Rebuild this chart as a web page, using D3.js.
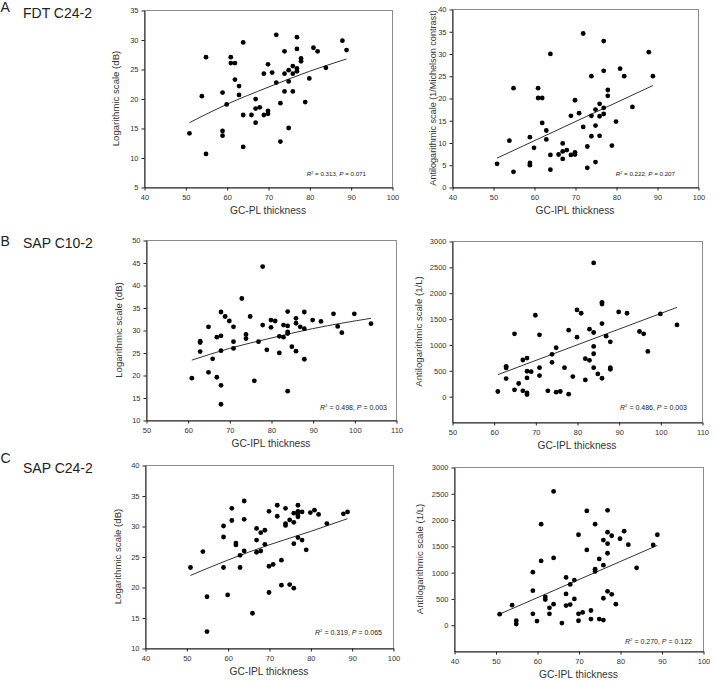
<!DOCTYPE html>
<html><head><meta charset="utf-8">
<script src="https://cdn.jsdelivr.net/npm/d3@7"></script>
<style>body{margin:0;background:#fff;} svg{display:block;font-family:Arial,"Liberation Sans",sans-serif;}</style>
</head><body><svg id="c" width="715" height="683"></svg>
<script>
// ---------- DATA ----------
const fdtThickness = [51,54,55,55,59,59,59,60,61,61,62,62,63,63,64,64,64,66,67,67,67,68,69,69,70,70,70,71,72,72,73,73,74,74,74,75,75,75,76,76,76,77,77,77,77,78,78,79,80,81,82,84,88,89];
const fdtLog = [14.1,20.4,27.0,10.6,21.0,14.5,13.7,19.0,27.0,26.0,26.0,23.2,22.1,20.6,29.5,17.2,11.8,17.2,19.9,18.3,15.9,18.5,17.2,24.2,25.8,17.9,17.4,24.4,30.8,22.7,19.2,12.7,28.0,24.2,21.2,24.8,22.9,15.0,25.5,24.2,21.2,30.4,28.4,25.1,24.6,26.8,26.3,19.4,23.4,28.6,28.0,25.2,29.8,28.2];
const fdtAnti = [5.2,10.4,22.2,3.4,11.2,5.4,4.9,8.8,22.2,20.0,20.0,14.4,12.7,10.7,29.9,7.2,3.9,7.3,9.8,8.0,6.3,8.3,16.0,7.2,19.5,7.8,7.3,16.6,34.5,13.5,9.1,4.3,24.9,16.0,11.4,17.4,13.8,5.6,18.7,15.9,11.5,32.8,26.1,17.8,16.4,21.8,20.5,9.3,14.7,26.6,24.9,18.0,30.3,24.9];

const c10LogThickness = [61,63,63,63,65,65,66,67,67,68,68,68,68,68,69,70,71,71,71,73,74,74,75,76,77,78,78,79,80,80,81,82,82,83,83,84,84,84,84,84,85,86,86,86,87,88,88,88,90,92,95,96,97,100,104];
const c10Log = [19.3,27.5,27.2,25.2,30.7,20.6,23.6,28.4,19.5,34.0,28.7,25.4,17.7,13.5,33.0,32.0,30.7,27.4,25.9,37.0,29.0,28.1,33.0,18.7,27.4,44.1,31.1,25.6,32.2,30.6,32.0,28.6,24.9,31.1,28.4,34.1,30.9,29.6,29.2,16.4,26.3,32.6,31.5,25.3,30.7,34.0,30.3,23.5,32.2,31.9,33.6,30.8,29.4,33.6,31.4];
const c10AntiThickness = [61,63,63,63,65,65,66,67,67,68,68,68,68,68,69,70,71,71,71,73,74,74,75,75,76,77,78,78,79,80,80,81,82,82,83,83,84,84,84,84,84,85,86,86,86,86,87,88,88,88,90,92,95,96,97,100,104];
const c10Anti = [90,577,545,340,1205,122,244,699,103,737,481,353,64,32,474,1564,1186,551,397,103,808,654,936,77,90,551,1276,38,378,1667,1141,1603,724,314,1295,692,2577,1231,962,820,551,429,1814,1782,1404,346,1160,1051,551,519,1628,1603,1250,1205,865,1590,1378];

const c24Thickness = [51,54,55,55,59,59,59,60,61,61,62,62,63,63,64,64,64,66,67,67,67,68,68,69,69,70,70,70,71,72,72,73,73,74,74,74,75,75,76,76,76,76,77,77,77,77,77,78,78,79,80,81,82,84,88,89];
const c24Log = [23.2,25.8,18.4,12.7,30.0,28.2,23.2,18.7,32.9,30.9,27.2,26.9,25.2,23.2,34.1,31.1,25.9,15.7,29.6,27.7,25.7,28.9,25.9,29.3,27.0,32.4,23.4,19.1,23.7,33.4,31.6,24.4,20.3,32.9,30.4,30.1,31.0,20.4,32.1,30.6,27.1,19.8,33.4,32.4,31.8,31.5,28.1,32.3,27.7,26.1,32.2,32.6,31.9,30.4,32.0,32.3];
const c24Anti = [201,371,75,13,1000,648,208,69,1912,1214,528,478,321,208,2535,1271,390,31,899,585,365,767,384,849,491,1711,208,75,233,2164,1422,270,107,1912,1057,1013,1252,107,1610,1132,503,88,2176,1761,1541,1359,635,1692,579,390,1635,1780,1522,1082,1516,1711];

// fitted regression curves
const fdtLogFitX = [51,60,70,80,89],  fdtLogFitY = [15.9,19.0,21.9,24.6,26.7];
const fdtAntiFitX = [51,89],          fdtAntiFitY = [6.5,22.8];
const c10LogFitX = [61,70,80,90,104], c10LogFitY = [23.3,25.9,28.2,30.3,32.6];
const c10AntiFitX = [61,104],         c10AntiFitY = [415,1717];
const c24LogFitX = [51,60,70,80,89],  c24LogFitY = [21.9,24.4,26.9,29.1,31.2];
const c24AntiFitX = [51,89],          c24AntiFitY = [202,1509];

// tick labels
const ticks40to100 = [40,50,60,70,80,90,100];
const ticks50to110 = [50,60,70,80,90,100,110];
const fdtLogTicks = [5,10,15,20,25,30,35];
const fdtAntiTicks = [0,5,10,15,20,25,30,35,40];
const c10LogTicks = [10,15,20,25,30,35,40,45,50];
const c24LogTicks = [10,15,20,25,30,35,40];
const antiLTicks = [0,500,1000,1500,2000,2500,3000];

// stats
const stats = [
  ["0.313","0.071"],["0.222","0.207"],
  ["0.498","0.003"],["0.486","0.003"],
  ["0.319","0.065"],["0.270","0.122"]
];
const rowLabels = ["A","B","C"];
const rowTitles = ["FDT C24-2","SAP C10-2","SAP C24-2"];

// ---------- DRAW ----------
const svg = d3.select("#c");
const FONT = "Arial, 'Liberation Sans', sans-serif";

const panels = [
  {xs:fdtThickness, ys:fdtLog, fx:fdtLogFitX, fy:fdtLogFitY, xd:[40,100], yd:[5,35], xt:ticks40to100, yt:fdtLogTicks,
   box:[144,10,392,187], yTitle:"Logarithmic scale (dB)", yOff:-28.5, xTitle:"GC-PL thickness", st:stats[0], ann:[-26,-11,6.2], curve:true},
  {xs:fdtThickness, ys:fdtAnti, fx:fdtAntiFitX, fy:fdtAntiFitY, xd:[40,100], yd:[0,40], xt:ticks40to100, yt:fdtAntiTicks,
   box:[452,9,698,187], yTitle:"Antilogarithmic scale (1/Michelson contrast)", yOff:-20, xTitle:"GC-IPL thickness", st:stats[1], ann:[-23,-11,6.2], yFs:9.1},
  {xs:c10LogThickness, ys:c10Log, fx:c10LogFitX, fy:c10LogFitY, xd:[50,110], yd:[10,50], xt:ticks50to110, yt:c10LogTicks,
   box:[146,240,396,420], yTitle:"Logarithmic scale (dB)", yOff:-28, xTitle:"GC-IPL thickness", st:stats[2], ann:[-9,-10,7], curve:true},
  {xs:c10AntiThickness, ys:c10Anti, fx:c10AntiFitX, fy:c10AntiFitY, xd:[50,110], yd:[-500,3000], xt:ticks50to110, yt:antiLTicks,
   box:[452,241,702,422], yTitle:"Antilogarithmic scale (1/L)", yOff:-34, xTitle:"GC-IPL thickness", st:stats[3], ann:[-15,-12,7]},
  {xs:c24Thickness, ys:c24Log, fx:c24LogFitX, fy:c24LogFitY, xd:[40,100], yd:[10,40], xt:ticks40to100, yt:c24LogTicks,
   box:[145,465,393,648], yTitle:"Logarithmic scale (dB)", yOff:-28, xTitle:"GC-IPL thickness", st:stats[4], ann:[-11,-13,7], curve:true},
  {xs:c24Thickness, ys:c24Anti, fx:c24AntiFitX, fy:c24AntiFitY, xd:[40,100], yd:[-500,3000], xt:ticks40to100, yt:antiLTicks,
   box:[454,467,703,651], yTitle:"Antilogarithmic scale (1/L)", yOff:-35, xTitle:"GC-IPL thickness", st:stats[5], ann:[-11,-7,7]}
];

panels.forEach(p => {
  const [l,t,r,b] = p.box;
  const x = d3.scaleLinear().domain(p.xd).range([l,r]);
  const y = d3.scaleLinear().domain(p.yd).range([b,t]);
  const g = svg.append("g");

  g.append("rect").attr("x",l+0.5).attr("y",t+0.5).attr("width",r-l).attr("height",b-t)
    .attr("fill","none").attr("stroke","#8c8c8c").attr("stroke-width",1);

  const ax = g.append("g").attr("transform",`translate(0.5,${b+0.5})`)
    .call(d3.axisBottom(x).tickValues(p.xt).tickFormat(d3.format("d")).tickSize(3).tickSizeOuter(0).tickPadding(4));
  const ay = g.append("g").attr("transform",`translate(${l+0.5},0.5)`)
    .call(d3.axisLeft(y).tickValues(p.yt).tickFormat(d3.format("d")).tickSize(3).tickSizeOuter(0).tickPadding(3));
  [ax,ay].forEach(a => {
    a.attr("font-size",7.5).attr("font-family",FONT);
    a.select("path.domain").attr("stroke","#222");
    a.selectAll(".tick line").attr("stroke","#222");
    a.selectAll(".tick text").attr("fill","#333");
  });

  // fit line
  const line = d3.line().x(d=>x(d[0])).y(d=>y(d[1]))
    .curve(p.curve ? d3.curveMonotoneX : d3.curveLinear);
  g.append("path").datum(p.fx.map((v,i)=>[v,p.fy[i]])).attr("d",line)
    .attr("fill","none").attr("stroke","#333").attr("stroke-width",1);

  // points
  g.selectAll("circle").data(p.xs.map((v,i)=>[v,p.ys[i]])).join("circle")
    .attr("cx",d=>x(d[0])).attr("cy",d=>y(d[1])).attr("r",2.4).attr("fill","#000");

  // axis titles
  g.append("text").attr("transform",`translate(${l+p.yOff+3.5},${(t+b)/2}) rotate(-90)`)
    .attr("text-anchor","middle").attr("font-size",p.yFs||9.6).attr("fill","#333").attr("font-family",FONT)
    .text(p.yTitle);
  g.append("text").attr("x",(l+r)/2).attr("y",b+27).attr("text-anchor","middle")
    .attr("font-size",10.2).attr("fill","#333").attr("font-family",FONT).text(p.xTitle);

  // annotation
  const [dx,dy,fs] = p.ann;
  const tx = g.append("text").attr("x",r+dx).attr("y",b+dy).attr("text-anchor","end")
    .attr("font-size",fs).attr("fill","#222").attr("font-family",FONT);
  tx.append("tspan").attr("font-style","italic").text("R");
  tx.append("tspan").attr("dy",-fs*0.4).attr("font-size",fs*0.6).text("2");
  tx.append("tspan").attr("dy",fs*0.4).text(` = ${p.st[0]}, `);
  tx.append("tspan").attr("font-style","italic").text("P");
  tx.append("tspan").text(` = ${p.st[1]}`);
});

// row labels
const rowY = [[12,18],[246,248],[463,473]];
rowLabels.forEach((lab,i) => {
  svg.append("text").attr("x",0.5).attr("y",rowY[i][0]).attr("font-size",14).attr("fill","#222")
    .attr("font-family",FONT).text(lab);
  svg.append("text").attr("x",23).attr("y",rowY[i][1]).attr("font-size",14).attr("fill","#222")
    .attr("font-family",FONT).text(rowTitles[i]);
});
</script></body></html>
